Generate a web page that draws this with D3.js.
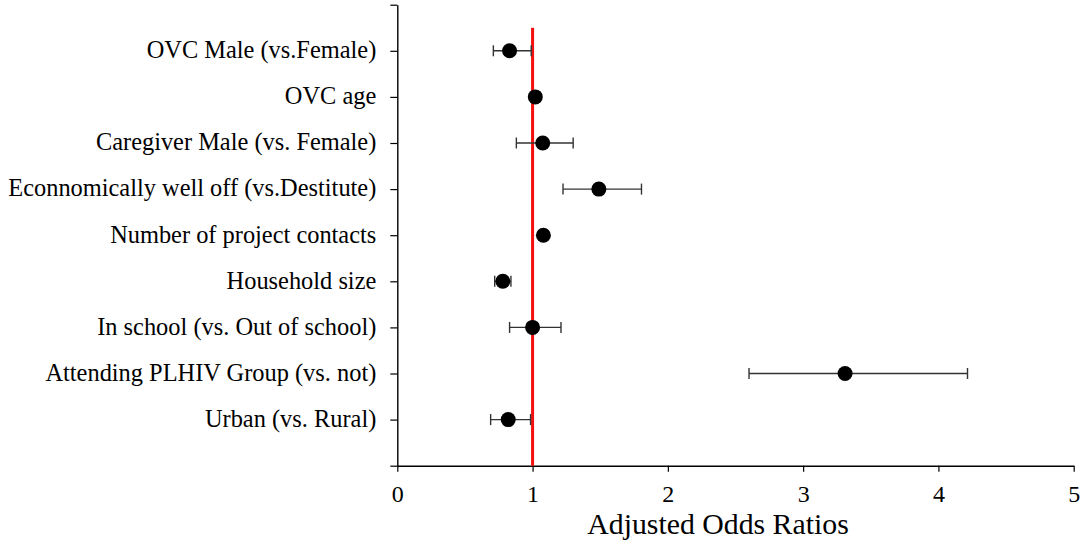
<!DOCTYPE html>
<html>
<head>
<meta charset="utf-8">
<script src="https://cdn.jsdelivr.net/npm/d3@7"></script>
<style>
  html, body { margin: 0; padding: 0; background: #ffffff; }
  svg { display: block; font-family: "Liberation Serif", "Times New Roman", serif; }
</style>
</head>
<body>
<div id="chart"></div>
<script>
// --- data ---
const categories = [
  "OVC Male (vs.Female)",
  "OVC age",
  "Caregiver Male (vs. Female)",
  "Econnomically well off (vs.Destitute)",
  "Number of project contacts",
  "Household size",
  "In school (vs. Out of school)",
  "Attending PLHIV Group (vs. not)",
  "Urban (vs. Rural)"
];
const oddsRatios = [0.83, 1.02, 1.075, 1.49, 1.08, 0.78, 1.0, 3.31, 0.82];
const ciLower    = [0.71, 1.01, 0.88, 1.225, 1.07, 0.72, 0.83, 2.60, 0.69];
const ciUpper    = [0.99, 1.03, 1.30, 1.805, 1.09, 0.84, 1.21, 4.215, 0.985];
const xTicks = [0, 1, 2, 3, 4, 5];
const xTitle = "Adjusted Odds Ratios";

const width = 1084, height = 544;
const margin = { top: 4.7, right: 10.3, bottom: 78.3, left: 397.3 };
const innerW = width - margin.left - margin.right;
const innerH = height - margin.top - margin.bottom;

const svg = d3.select("#chart").append("svg")
  .attr("width", width)
  .attr("height", height);

const g = svg.append("g").attr("transform", `translate(${margin.left},${margin.top})`);

const x = d3.scaleLinear().domain([0, 5]).range([0, innerW]);
// rows sit at 1..9 counted from the top, axis spans 0..10
const y = d3.scaleLinear().domain([10, 0]).range([0, innerH]);
const rowPos = i => 9 - i;

// x axis
const xAxis = g.append("g")
  .attr("transform", `translate(0,${innerH})`)
  .call(d3.axisBottom(x).tickValues(xTicks).tickFormat(d3.format("d")).tickSize(6).tickSizeOuter(0).tickPadding(13));
xAxis.select(".domain").attr("stroke", "#000").attr("stroke-width", 1.4);
xAxis.selectAll(".tick line").attr("stroke", "#000").attr("stroke-width", 1.2);
xAxis.selectAll(".tick text")
  .attr("fill", "#000")
  .style("font-size", "24px")
  .style("font-family", "'Liberation Serif', serif");

// y axis
const yAxis = g.append("g")
  .call(d3.axisLeft(y).tickValues(d3.range(0, 11)).tickSize(7).tickSizeOuter(0).tickPadding(14)
    .tickFormat(d => (d >= 1 && d <= 9) ? categories[9 - d] : ""));
yAxis.select(".domain").attr("stroke", "#000").attr("stroke-width", 1.4);
yAxis.selectAll(".tick line").attr("stroke", "#000").attr("stroke-width", 1.2);
yAxis.selectAll(".tick text")
  .attr("fill", "#000")
  .attr("dy", "0.28em")
  .style("font-size", "24.4px")
  .style("font-family", "'Liberation Serif', serif");

// reference line at OR = 1
g.append("line")
  .attr("x1", x(1)).attr("x2", x(1))
  .attr("y1", y(9.5)).attr("y2", y(0))
  .attr("stroke", "#f50f0f")
  .attr("stroke-width", 3);

// error bars
const capH = 5.5;
const rows = g.selectAll(".row")
  .data(oddsRatios.map((v, i) => ({ v, lo: ciLower[i], hi: ciUpper[i], i })))
  .enter().append("g")
  .attr("class", "row");

rows.append("line")
  .attr("x1", d => x(d.lo)).attr("x2", d => x(d.hi))
  .attr("y1", d => y(rowPos(d.i))).attr("y2", d => y(rowPos(d.i)))
  .attr("stroke", "#333").attr("stroke-width", 1.4);

rows.append("line")
  .attr("x1", d => x(d.lo)).attr("x2", d => x(d.lo))
  .attr("y1", d => y(rowPos(d.i)) - capH).attr("y2", d => y(rowPos(d.i)) + capH)
  .attr("stroke", "#333").attr("stroke-width", 1.4);

rows.append("line")
  .attr("x1", d => x(d.hi)).attr("x2", d => x(d.hi))
  .attr("y1", d => y(rowPos(d.i)) - capH).attr("y2", d => y(rowPos(d.i)) + capH)
  .attr("stroke", "#333").attr("stroke-width", 1.4);

rows.append("circle")
  .attr("cx", d => x(d.v))
  .attr("cy", d => y(rowPos(d.i)))
  .attr("r", 7.5)
  .attr("fill", "#000");

// x title
svg.append("text")
  .attr("x", 718)
  .attr("y", 534)
  .attr("text-anchor", "middle")
  .attr("fill", "#000")
  .style("font-size", "29.8px")
  .text(xTitle);
</script>
</body>
</html>
